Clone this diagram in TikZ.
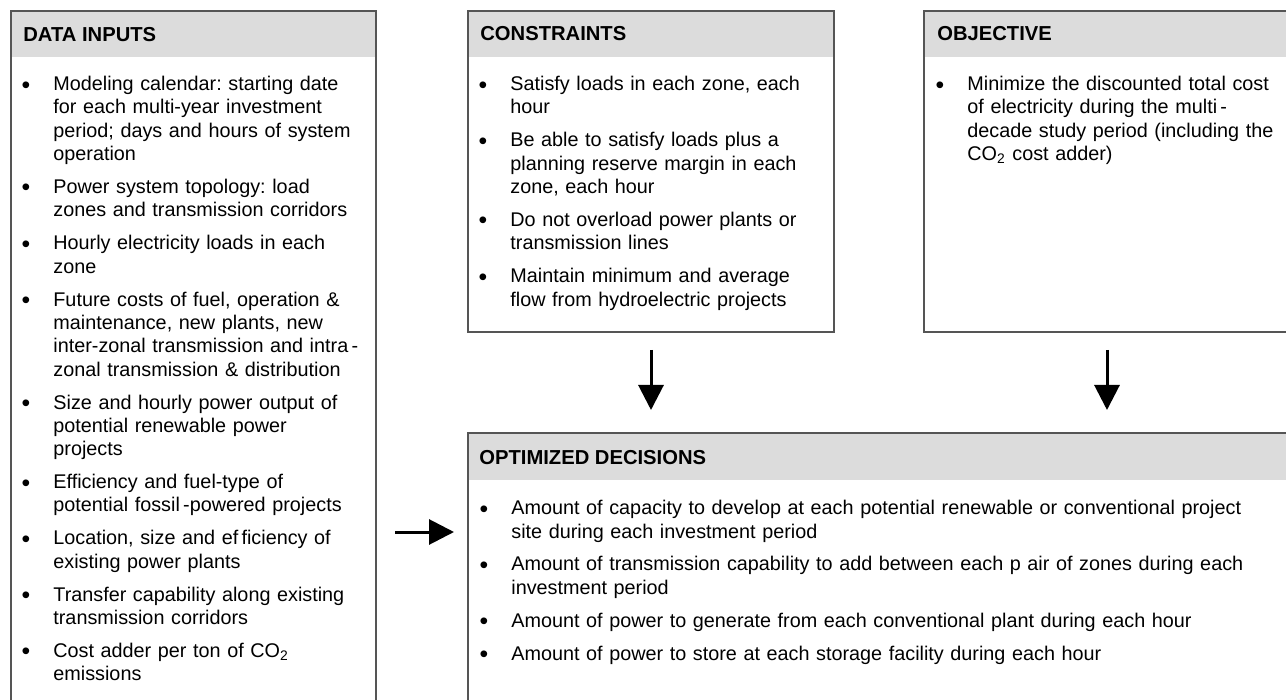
\documentclass[tikz,border=0pt]{standalone}
\usepackage{fontspec}
\setmainfont{Liberation Sans}
\usepackage{graphicx}
\usepackage{enumitem}
\usepackage{xcolor}
\usetikzlibrary{arrows.meta}
\definecolor{hdrgray}{HTML}{DCDCDC}
\definecolor{framegray}{HTML}{555555}
\frenchspacing
\setlist[itemize]{label=\raisebox{-1.2pt}{\scalebox{1.25}{\textbullet}}, leftmargin=15pt, labelsep=11.5pt, itemsep=4.85pt, parsep=0pt, topsep=0pt}

\begin{document}
\begin{tikzpicture}[x=0.5pt, y=-0.5pt,
    font=\fontsize{9.9}{11.65}\selectfont,
    panel/.style={draw=framegray, line width=1pt, anchor=north west, inner sep=0pt},
    title/.style={anchor=base west, inner sep=0pt, font=\fontsize{10.1}{11.65}\selectfont\bfseries},
    items/.style={anchor=north west, inner sep=0pt, text width=#1, align=left},
    bigarrow/.style={-{Triangle[width=12.5pt,length=12.5pt]}, line width=1.5pt}]
    \useasboundingbox (0,0) rectangle (1286,700);
    \clip (0,0) rectangle (1286,700);

    \fill[hdrgray] (10,10) rectangle (375,57);
    \fill[hdrgray] (467,10) rectangle (833,57);
    \fill[hdrgray] (923,10) rectangle (1289,57);
    \fill[hdrgray] (467,432) rectangle (1289,480);

    \node[panel, minimum width=182.5pt, minimum height=355pt] (data) at (10,10) {};
    \node[panel, minimum width=183pt, minimum height=160.5pt] (cons) at (467,10) {};
    \node[panel, minimum width=183pt, minimum height=160.5pt] (obj) at (923,10) {};
    \node[panel, minimum width=411pt, minimum height=144pt] (opt) at (467,432) {};

    \node[title] (datatitle) at (23,42) {DATA INPUTS};
    \node[title] (constitle) at (480,41) {CONSTRAINTS};
    \node[title] (objtitle) at (937,41) {OBJECTIVE};
    \node[title] (opttitle) at (479,465) {OPTIMIZED DECISIONS};

    \node[items=190pt] (datalist) at (23,67) {\begin{itemize}
        \item Modeling calendar: starting date\\ for each multi-year investment\\ period; days and hours of system\\ operation
        \item Power system topology: load\\ zones and transmission corridors
        \item Hourly electricity loads in each\\ zone
        \item Future costs of fuel, operation \&\\ maintenance, new plants, new\\ inter-zonal transmission and intra\,-\\ zonal transmission \& distribution
        \item Size and hourly power output of\\ potential renewable power\\ projects
        \item Efficiency and fuel-type of\\ potential fossil\,-powered projects
        \item Location, size and ef\,ficiency of\\ existing power plants
        \item Transfer capability along existing\\ transmission corridors
        \item Cost adder per ton of CO\textsubscript{2}\\ emissions
    \end{itemize}};

    \node[items=190pt] (conslist) at (480,67) {\begin{itemize}
        \item Satisfy loads in each zone, each\\ hour
        \item Be able to satisfy loads plus a\\ planning reserve margin in each\\ zone, each hour
        \item Do not overload power plants or\\ transmission lines
        \item Maintain minimum and average\\ flow from hydroelectric projects
    \end{itemize}};

    \node[items=190pt] (objlist) at (937,67) {\begin{itemize}
        \item Minimize the discounted total cost\\ of electricity during the multi\,-\\ decade study period (including the\\ CO\textsubscript{2} cost adder)
    \end{itemize}};

    \node[items=400pt] (optlist) at (481,491) {\begin{itemize}
        \item Amount of capacity to develop at each potential renewable or conventional project\\ site during each investment period
        \item Amount of transmission capability to add between each p air of zones during each\\ investment period
        \item Amount of power to generate from each conventional plant during each hour
        \item Amount of power to store at each storage facility during each hour
    \end{itemize}};

    \coordinate (feed) at (0,532);
    \draw[bigarrow, shorten <=8.5pt, shorten >=11pt] (cons.south) -- (cons.south |- opt.north);
    \draw[bigarrow, shorten <=8.5pt, shorten >=11pt] (obj.south) -- (obj.south |- opt.north);
    \draw[bigarrow, shorten <=9pt, shorten >=6.5pt] (data.east |- feed) -- (opt.west |- feed);
\end{tikzpicture}
\end{document}
